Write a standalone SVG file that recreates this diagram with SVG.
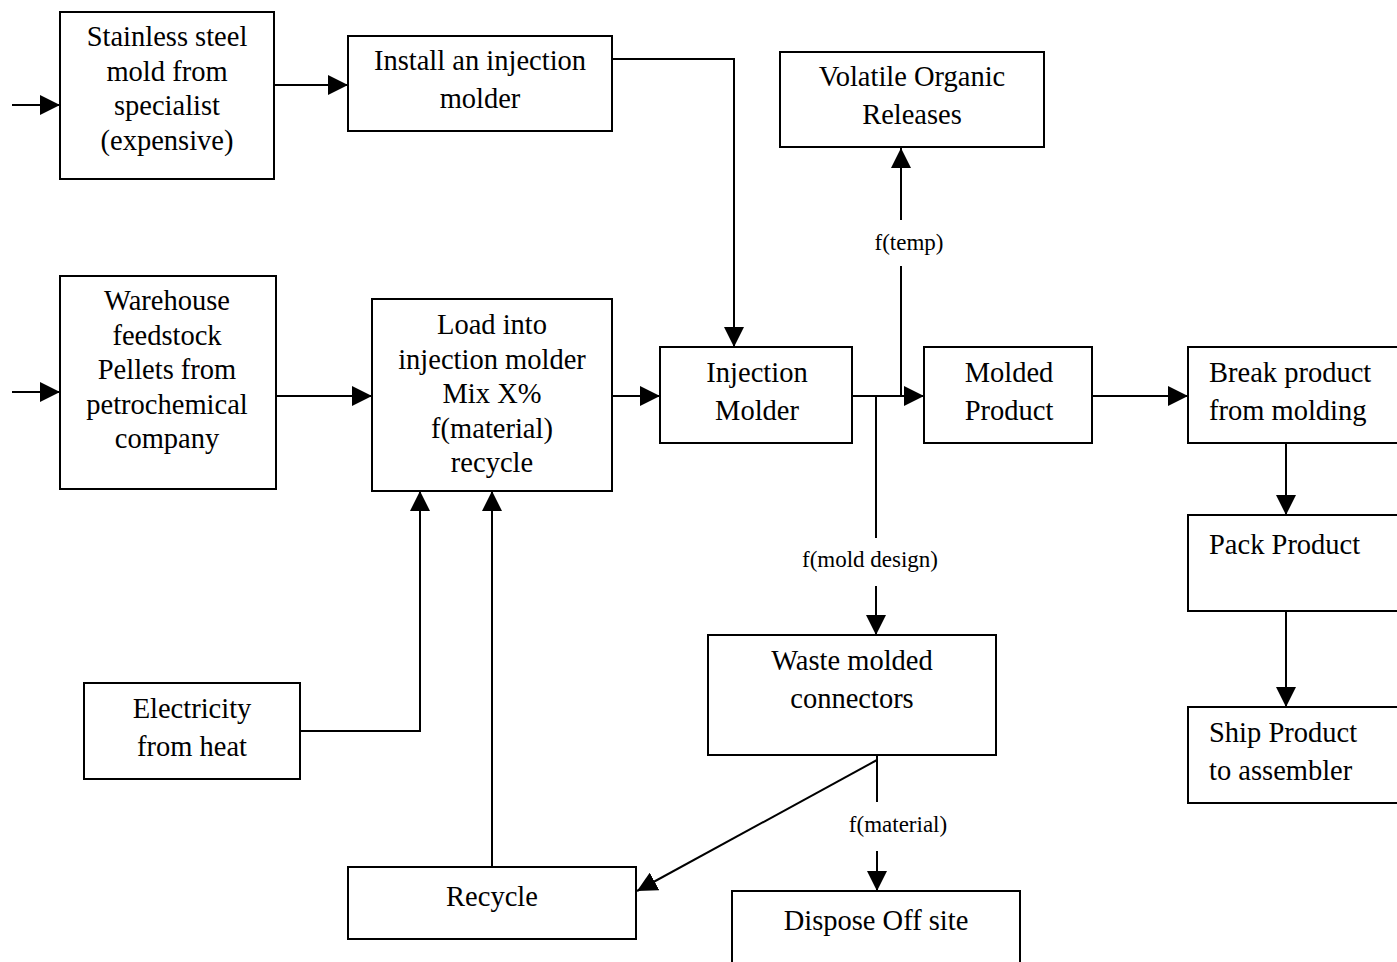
<svg xmlns="http://www.w3.org/2000/svg" width="1397" height="962" viewBox="0 0 1397 962">
<defs>
<marker id="ah" viewBox="0 0 20 20" refX="20" refY="10" markerWidth="20" markerHeight="20" markerUnits="userSpaceOnUse" orient="auto">
<path d="M0,0 L20,10 L0,20 Z" fill="#000"/>
</marker>
<style>
rect{fill:#fff;stroke:#000;stroke-width:2}
text{font-family:"Liberation Serif","Times New Roman",serif;font-size:28.5px;fill:#000}
.c{text-anchor:middle}
.l{font-size:23px;text-anchor:middle}
#connectors path{fill:none;stroke:#000;stroke-width:2}
.a{marker-end:url(#ah)}
</style>
</defs>
<g id="connectors">
<path class="a" d="M12,105 H60"/>
<path class="a" d="M12,392 H60"/>
<path class="a" d="M274,85 H348"/>
<path class="a" d="M612,59 H734 V347"/>
<path class="a" d="M276,396 H372"/>
<path class="a" d="M612,396 H660"/>
<path class="a" d="M852,396 H924"/>
<path d="M901,396 V266"/>
<path class="a" d="M901,220 V148"/>
<path d="M876,396 V538"/>
<path class="a" d="M876,586 V635"/>
<path class="a" d="M1092,396 H1188"/>
<path class="a" d="M1286,443 V515"/>
<path class="a" d="M1286,611 V707"/>
<path class="a" d="M300,731 H420 V491"/>
<path class="a" d="M492,867 V491"/>
<path class="a" d="M877,760 L637,891"/>
<path d="M877,755 V802"/>
<path class="a" d="M877,851 V891"/>
<text class="l" x="909" y="250">f(temp)</text>
<text class="l" x="870" y="567">f(mold design)</text>
<text class="l" x="898" y="832">f(material)</text>
</g>
<g id="stainless">
<rect x="60" y="12" width="214" height="167"/>
<text class="c" x="167" y="46">Stainless steel</text>
<text class="c" x="167" y="80.5">mold from</text>
<text class="c" x="167" y="115">specialist</text>
<text class="c" x="167" y="149.5">(expensive)</text>
</g>
<g id="install">
<rect x="348" y="36" width="264" height="95"/>
<text class="c" x="480" y="70">Install an injection</text>
<text class="c" x="480" y="108">molder</text>
</g>
<g id="volatile">
<rect x="780" y="52" width="264" height="95"/>
<text class="c" x="912" y="86">Volatile Organic</text>
<text class="c" x="912" y="124">Releases</text>
</g>
<g id="warehouse">
<rect x="60" y="276" width="216" height="213"/>
<text class="c" x="167" y="310">Warehouse</text>
<text class="c" x="167" y="344.5">feedstock</text>
<text class="c" x="167" y="379">Pellets from</text>
<text class="c" x="167" y="413.5">petrochemical</text>
<text class="c" x="167" y="448">company</text>
</g>
<g id="load">
<rect x="372" y="299" width="240" height="192"/>
<text class="c" x="492" y="334">Load into</text>
<text class="c" x="492" y="368.5">injection molder</text>
<text class="c" x="492" y="403">Mix X%</text>
<text class="c" x="492" y="437.5">f(material)</text>
<text class="c" x="492" y="472">recycle</text>
</g>
<g id="injection">
<rect x="660" y="347" width="192" height="96"/>
<text class="c" x="757" y="382">Injection</text>
<text class="c" x="757" y="420">Molder</text>
</g>
<g id="molded">
<rect x="924" y="347" width="168" height="96"/>
<text class="c" x="1009" y="382">Molded</text>
<text class="c" x="1009" y="420">Product</text>
</g>
<g id="break">
<rect x="1188" y="347" width="215" height="96"/>
<text x="1209" y="382">Break product</text>
<text x="1209" y="420">from molding</text>
</g>
<g id="pack">
<rect x="1188" y="515" width="215" height="96"/>
<text x="1209" y="554">Pack Product</text>
</g>
<g id="ship">
<rect x="1188" y="707" width="215" height="96"/>
<text x="1209" y="742">Ship Product</text>
<text x="1209" y="780">to assembler</text>
</g>
<g id="electricity">
<rect x="84" y="683" width="216" height="96"/>
<text class="c" x="192" y="718">Electricity</text>
<text class="c" x="192" y="756">from heat</text>
</g>
<g id="waste">
<rect x="708" y="635" width="288" height="120"/>
<text class="c" x="852" y="670">Waste molded</text>
<text class="c" x="852" y="708">connectors</text>
</g>
<g id="recycle">
<rect x="348" y="867" width="288" height="72"/>
<text class="c" x="492" y="906">Recycle</text>
</g>
<g id="dispose">
<rect x="732" y="891" width="288" height="80"/>
<text class="c" x="876" y="930">Dispose Off site</text>
</g>
</svg>
